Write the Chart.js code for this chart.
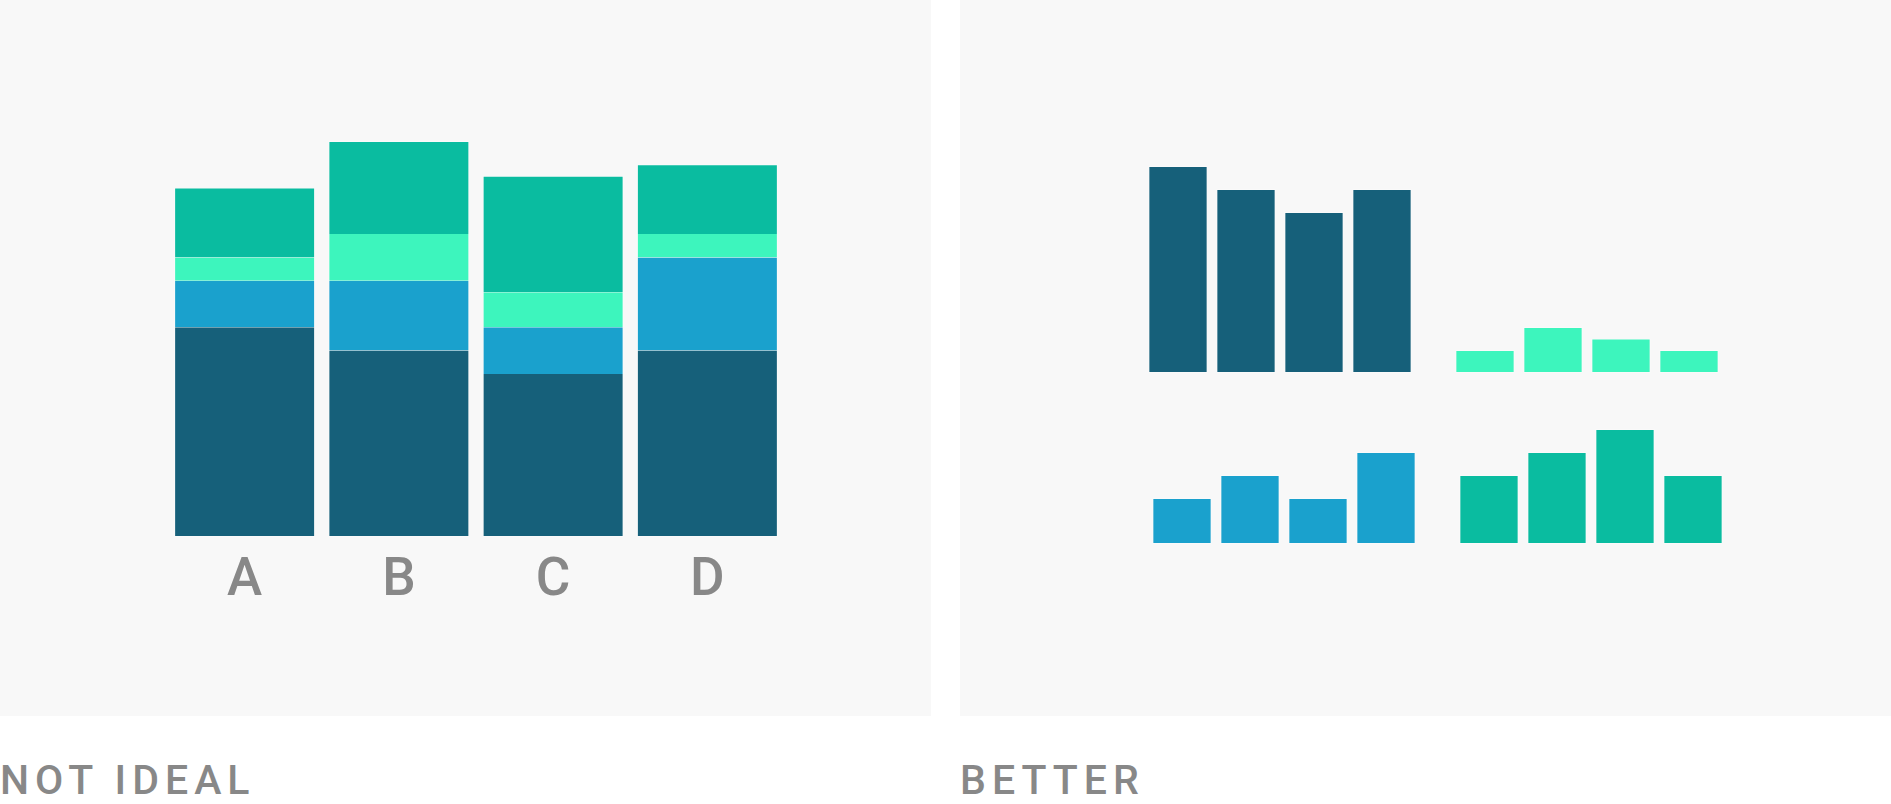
<!DOCTYPE html>
<html>
<head>
<meta charset="utf-8">
<title>Stacked vs. small multiples</title>
<script src="https://cdn.jsdelivr.net/npm/chart.js@4"></script>
<style>
  html, body { margin: 0; padding: 0; background: #ffffff; width: 1891px; height: 804px; overflow: hidden; }
  .panel { position: absolute; top: 0; height: 716px; background: #f8f8f8; }
  #panel-left { left: 0; width: 931px; }
  #panel-right { left: 960px; width: 931px; }
  .box { position: absolute; }
  .caption {
    position: absolute; top: 760px; margin: 0;
    font: 500 41px Roboto, sans-serif; line-height: 41px;
    letter-spacing: 6px; color: #888888; white-space: nowrap;
  }
</style>
</head>
<body>
<div class="panel" id="panel-left"></div>
<div class="panel" id="panel-right"></div>

<div class="box" style="left:0;top:0;width:931px;height:716px;"><canvas id="stacked"></canvas></div>

<div class="box" style="left:1143.7px;top:143px;width:272px;height:230px;"><canvas id="small-dark"></canvas></div>
<div class="box" style="left:1450.7px;top:143px;width:272px;height:230px;"><canvas id="small-mint"></canvas></div>
<div class="box" style="left:1148.2px;top:314px;width:272px;height:230px;"><canvas id="small-blue"></canvas></div>
<div class="box" style="left:1455.4px;top:314px;width:272px;height:230px;"><canvas id="small-teal"></canvas></div>

<div class="caption" style="left:0;">NOT IDEAL</div>
<div class="caption" style="left:960px;">BETTER</div>

<script>
// Categories and the four series
const categories = ['A', 'B', 'C', 'D'];
const darkValues = [9, 8, 7, 8];
const blueValues = [2, 3, 2, 4];
const mintValues = [1, 2, 1.5, 1];
const tealValues = [3, 4, 5, 3];

// Value axis ranges
const stackedMax = 20;
const smallMax = 10;

const COLORS = {
  dark: '#16607a',
  blue: '#1aa1cd',
  mint: '#3df5bd',
  teal: '#0abca0',
  edge: 'rgba(255,255,255,0.35)',
  label: '#888888'
};

Chart.defaults.animation = false;
Chart.defaults.font.family = 'Roboto, sans-serif';

const noPlugins = {
  legend: { display: false },
  tooltip: { enabled: false },
  title: { display: false }
};

// Stacked column chart: outline only around the outside of each stack
function stackLayer(values, color, edges) {
  return {
    data: values,
    backgroundColor: color,
    borderColor: COLORS.edge,
    borderWidth: edges,
    borderSkipped: false,
    categoryPercentage: 1,
    barPercentage: 0.914,
    clip: false
  };
}

new Chart(document.getElementById('stacked'), {
  type: 'bar',
  data: {
    labels: categories,
    datasets: [
      stackLayer(darkValues, COLORS.dark, { top: 0, left: 1, right: 1, bottom: 1 }),
      stackLayer(blueValues, COLORS.blue, { top: 0, left: 1, right: 1, bottom: 0 }),
      stackLayer(mintValues, COLORS.mint, { top: 0, left: 1, right: 1, bottom: 0 }),
      stackLayer(tealValues, COLORS.teal, { top: 1, left: 1, right: 1, bottom: 0 })
    ]
  },
  options: {
    responsive: true,
    maintainAspectRatio: false,
    layout: { padding: { left: 167.5, right: 146.5, top: 71, bottom: 79 } },
    plugins: noPlugins,
    scales: {
      x: {
        stacked: true,
        grid: { display: false, drawTicks: false },
        border: { display: false },
        ticks: { color: COLORS.label, font: { size: 53, weight: '500' }, padding: 13 },
        afterFit: (scale) => { scale.height = 100; }
      },
      y: {
        stacked: true,
        display: false,
        min: 0,
        max: stackedMax
      }
    }
  }
});

// Small multiples: one series per chart, shared value range
function smallChart(id, values, color) {
  new Chart(document.getElementById(id), {
    type: 'bar',
    data: {
      labels: categories,
      datasets: [{
        data: values,
        backgroundColor: color,
        borderColor: COLORS.edge,
        borderWidth: 1,
        borderSkipped: false,
        categoryPercentage: 1,
        barPercentage: 0.872,
        clip: false
      }]
    },
    options: {
      responsive: true,
      maintainAspectRatio: false,
      layout: { padding: 0 },
      plugins: noPlugins,
      scales: {
        x: { display: false },
        y: { display: false, min: 0, max: smallMax }
      }
    }
  });
}

smallChart('small-dark', darkValues, COLORS.dark);
smallChart('small-mint', mintValues, COLORS.mint);
smallChart('small-blue', blueValues, COLORS.blue);
smallChart('small-teal', tealValues, COLORS.teal);
</script>
</body>
</html>
